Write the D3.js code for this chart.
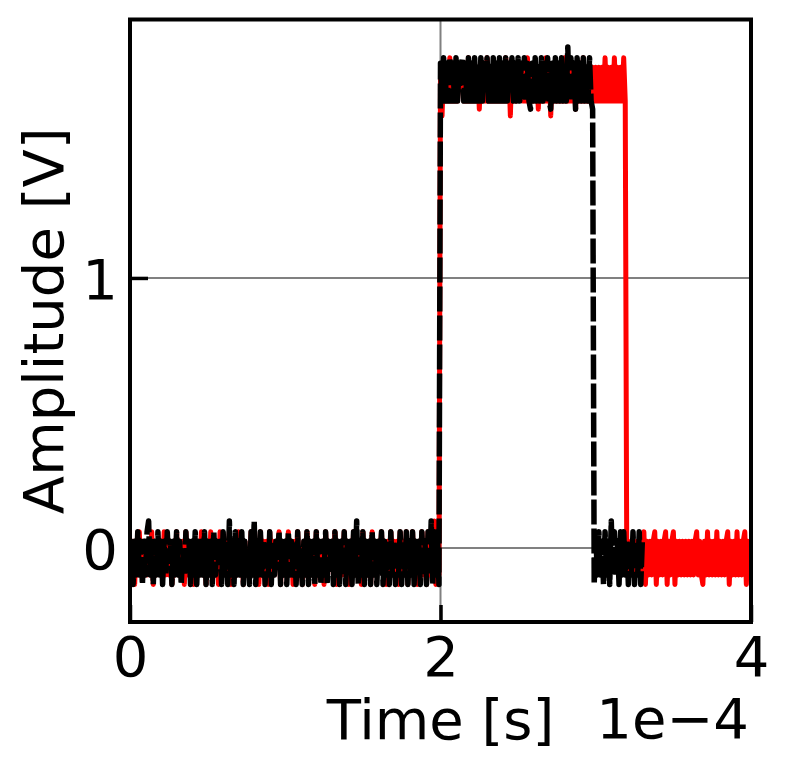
<!DOCTYPE html>
<html>
<head>
<meta charset="utf-8">
<script src="https://cdn.jsdelivr.net/npm/d3@7"></script>
<style>
    html, body { margin: 0; padding: 0; background: #fff; }
    svg text { font-family: "DejaVu Sans", sans-serif; fill: #000; }
</style>
</head>
<body>
<div id="chart"></div>
<script>
// scope samples, one every sampleStep seconds
var sampleStep = 1e-6;

var xTicks = [0, 2e-4, 4e-4];
var yTicks = [0, 1];
var xLabel = 'Time [s]';
var yLabel = 'Amplitude [V]';
var xOffsetText = '1e\u22124';

// red trace (solid)
var redLow1 = [
    0.025,-0.1,0.025,-0.135,0.025,-0.1,0.06,-0.1,0.025,-0.1,
    -0.01,-0.1,0.025,-0.1,0.06,-0.135,0.025,-0.1,0.025,-0.05,
    0.025,-0.1,0.06,-0.1,0.025,-0.1,0.025,-0.135,0.025,-0.1,
    0.06,-0.1,0.025,-0.05,0.025,-0.135,0.06,-0.1,0.025,-0.1,
    0.025,-0.135,0.025,-0.1,-0.01,-0.1,0.06,-0.1,0.025,-0.135,
    0.025,-0.1,0.06,-0.1,0.025,-0.1,0.025,-0.135,0.06,-0.1,
    0.025,-0.05,0.025,-0.1,0.06,-0.135,0.025,-0.1,0.025,-0.1,
    0.06,-0.1,0.025,-0.135,0.025,-0.1,-0.01,-0.1,0.06,-0.1,
    0.025,-0.1,0.025,-0.135,0.06,-0.1,0.025,-0.1,0.025,-0.135,
    0.06,-0.1,0.025,-0.1,0.025,-0.05,0.06,-0.135,0.025,-0.1,
    0.025,-0.1,0.06,-0.1,0.025,-0.135,0.025,-0.1,0.06,-0.1,
    -0.01,-0.135,0.025,-0.1,0.06,-0.1,0.025,-0.1,0.025,-0.135,
    0.06,-0.1,0.025,-0.1,0.025,-0.135,0.06,-0.1,0.025,-0.05,
    0.025,-0.1,0.06,-0.135,0.025,-0.1,0.025,-0.1,0.06,-0.1,
    0.025,-0.135,0.025,-0.1,0.06,-0.1,-0.01,-0.1,0.025,-0.135,
    0.06,-0.1,0.025,-0.1,0.025,-0.135,0.06,-0.1,0.025,-0.1,
    0.025,-0.05,0.06,-0.1,0.025,-0.135,0.025,-0.1,0.06,-0.1,
    0.025,-0.1,0.025,-0.135,0.06,-0.1,0.025,-0.1,0.06,-0.135,
    0.025,-0.1,0.06,-0.1,0.025,-0.135,0.025,-0.1,0.06,-0.1,
    0.025,-0.135,0.06,-0.1,0.025,-0.1,0.1,-0.135,0.06,-0.1
];
var redHigh = [
    1.78,1.6,1.78,1.655,1.78,1.655,1.815,1.655,1.78,1.655,
    1.78,1.655,1.78,1.72,1.78,1.655,1.78,1.655,1.815,1.655,
    1.78,1.655,1.78,1.655,1.78,1.625,1.78,1.655,1.78,1.655,
    1.815,1.655,1.78,1.655,1.72,1.655,1.78,1.655,1.78,1.655,
    1.78,1.655,1.815,1.655,1.78,1.6,1.78,1.655,1.78,1.655,
    1.78,1.72,1.78,1.655,1.78,1.655,1.815,1.655,1.78,1.655,
    1.78,1.655,1.78,1.625,1.78,1.655,1.78,1.655,1.815,1.655,
    1.78,1.6,1.78,1.655,1.78,1.655,1.72,1.655,1.78,1.655,
    1.815,1.655,1.78,1.655,1.78,1.655,1.78,1.625,1.78,1.655,
    1.78,1.655,1.815,1.655,1.78,1.655,1.78,1.655,1.78,1.655,
    1.78,1.655,1.78,1.655,1.78,1.655,1.815,1.655,1.78,1.655,
    1.78,1.655,1.815,1.655,1.78,1.655,1.78,1.655,1.815,1.655
];
var redLow2 = [
    -0.1,0.025,-0.1,0.025,-0.1,0.025,-0.1,0.025,-0.1,0.025,
    -0.1,0.06,-0.135,0.025,-0.1,0.025,-0.1,0.025,0.06,-0.135,
    0.025,-0.1,0.025,-0.1,0.025,0.06,-0.135,0.025,-0.1,0.025,
    0.06,-0.135,0.025,-0.1,0.025,-0.1,0.025,-0.1,0.025,-0.1,
    0.025,-0.1,0.025,-0.1,0.025,0.06,-0.1,0.025,-0.1,-0.135,
    0.025,-0.1,0.06,-0.1,0.025,-0.1,0.025,-0.1,0.06,-0.1,
    0.025,-0.1,0.025,-0.1,0.025,0.06,-0.135,0.025,-0.1,0.025,
    -0.1,0.06,-0.1,0.025,-0.1,0.025,0.06,-0.135,0.025,-0.1,
    0.025
];

// black trace (dashed)
var blackLow1 = [
    -0.1,0.025,-0.135,0.025,-0.1,0.06,-0.1,0.025,-0.135,0.025,
    -0.1,0.06,0.1,-0.1,0.025,-0.135,0.025,-0.1,0.06,-0.1,
    0.025,-0.135,0.025,-0.1,0.06,-0.05,0.025,-0.135,0.025,-0.1,
    0.06,-0.1,0.025,-0.135,-0.01,-0.1,0.06,-0.1,0.025,-0.135,
    0.025,-0.1,0.06,-0.135,0.025,-0.1,0.025,-0.1,0.06,-0.135,
    0.025,-0.1,0.025,-0.135,0.06,-0.1,0.025,-0.05,0.025,-0.135,
    0.06,-0.1,0.025,-0.135,0.1,-0.1,0.025,-0.135,0.06,-0.1,
    0.025,-0.1,0.06,-0.135,0.025,-0.1,-0.01,-0.135,0.06,-0.1,
    0.1,-0.135,0.025,-0.1,0.06,-0.1,0.025,-0.135,0.025,-0.1,
    0.06,-0.135,0.025,-0.1,0.025,-0.05,0.06,-0.135,0.025,-0.1,
    0.025,-0.135,0.06,-0.1,0.025,-0.1,0.025,-0.135,0.06,-0.1,
    -0.01,-0.135,0.025,-0.1,0.06,-0.135,0.025,-0.1,0.025,-0.135,
    0.06,-0.1,0.025,-0.135,0.025,-0.1,0.06,-0.135,0.025,-0.05,
    0.025,-0.135,0.06,-0.1,0.025,-0.135,0.025,-0.1,0.06,-0.135,
    0.025,-0.1,0.025,-0.135,0.06,-0.1,0.1,-0.135,0.025,-0.1,
    0.06,-0.135,0.025,-0.1,0.025,-0.135,0.06,-0.1,0.025,-0.135,
    0.025,-0.05,0.06,-0.135,0.025,-0.1,0.025,-0.135,0.06,-0.1,
    0.025,-0.135,0.025,-0.1,0.06,-0.135,0.025,-0.1,0.06,-0.135,
    0.025,-0.1,0.06,-0.135,0.025,-0.1,0.025,-0.135,0.06,-0.1,
    0.025,-0.135,0.06,-0.1,0.1,-0.135,0.06,-0.1,0.06,-0.135
];
var blackHigh = [
    1.795,1.655,1.815,1.655,1.795,1.655,1.815,1.655,1.795,1.655,
    1.815,1.655,1.795,1.72,1.815,1.655,1.795,1.655,1.815,1.655,
    1.795,1.655,1.815,1.655,1.795,1.655,1.815,1.655,1.795,1.72,
    1.815,1.655,1.795,1.655,1.815,1.655,1.795,1.655,1.815,1.655,
    1.795,1.655,1.815,1.655,1.795,1.72,1.815,1.655,1.795,1.655,
    1.815,1.655,1.795,1.655,1.815,1.655,1.795,1.655,1.625,1.795,
    1.655,1.815,1.655,1.795,1.655,1.815,1.655,1.795,1.655,1.815,
    1.655,1.625,1.795,1.655,1.815,1.655,1.795,1.655,1.815,1.655,
    1.795,1.655,1.855,1.655,1.815,1.655,1.795,1.625,1.815,1.655,
    1.795,1.655,1.815,1.655,1.795,1.655,1.815,1.655,1.625
];
var blackLow2 = [
    -0.135,0.06,-0.1,0.06,-0.1,0.025,-0.135,0.06,-0.1,0.025,
    -0.135,0.1,-0.1,0.06,-0.1,0.025,-0.135,0.06,-0.1,0.06,
    -0.1,0.025,-0.135,0.025,-0.1,0.06,-0.135,0.025,-0.1,0.06,
    -0.135,0.025
];

var ScopeChartController = function(objId) {
    this.objId = objId;
    this.width = 788;
    this.height = 772;
    this.left = 130;
    this.right = 751;
    this.top = 19.5;
    this.bottom = 622;
};

ScopeChartController.prototype = function() {

    function toPoints(values) {
        return values.map(function(v, i) { return [i * sampleStep, v]; });
    }

    function createHtml() {
        var svg = d3.select('#' + this.objId).append('svg')
            .attr('width', this.width)
            .attr('height', this.height);

        var x = d3.scaleLinear().domain([0, 4e-4]).range([this.left, this.right]);
        var y = d3.scaleLinear().domain([-0.274, 1.957]).range([this.bottom, this.top]);

        svg.append('defs').append('clipPath').attr('id', 'plotClip')
            .append('rect')
            .attr('x', this.left).attr('y', this.top)
            .attr('width', this.right - this.left)
            .attr('height', this.bottom - this.top);

        // grid
        var grid = svg.append('g').attr('stroke', '#808080').attr('stroke-width', 2);
        grid.selectAll('line.gx').data(xTicks).enter().append('line')
            .attr('x1', function(d) { return x(d); }).attr('x2', function(d) { return x(d); })
            .attr('y1', this.top).attr('y2', this.bottom);
        grid.selectAll('line.gy').data(yTicks).enter().append('line')
            .attr('x1', this.left).attr('x2', this.right)
            .attr('y1', function(d) { return y(d); }).attr('y2', function(d) { return y(d); });

        var line = d3.line()
            .x(function(d) { return x(d[0]); })
            .y(function(d) { return y(d[1]); });

        var plot = svg.append('g').attr('clip-path', 'url(#plotClip)');

        plot.append('path')
            .datum(toPoints(redLow1.concat(redHigh, redLow2)))
            .attr('d', line)
            .attr('fill', 'none')
            .attr('stroke', '#ff0000')
            .attr('stroke-width', 5)
            .attr('stroke-linejoin', 'round')
            .attr('stroke-linecap', 'round');

        plot.append('path')
            .datum(toPoints(blackLow1.concat(blackHigh, blackLow2)))
            .attr('d', line)
            .attr('fill', 'none')
            .attr('stroke', '#000000')
            .attr('stroke-width', 5.5)
            .attr('stroke-linejoin', 'round')
            .attr('stroke-dasharray', '25,4');

        // axes, ticks pointing inward
        var xAxis = svg.append('g')
            .attr('transform', 'translate(0,' + this.bottom + ')')
            .call(d3.axisBottom(x).tickValues(xTicks).tickSize(-17)
                .tickFormat(function(d) { return Math.round(d / 1e-4); }));
        var yAxis = svg.append('g')
            .attr('transform', 'translate(' + this.left + ',0)')
            .call(d3.axisLeft(y).tickValues(yTicks).tickSize(-18).tickFormat(d3.format('d')));

        [xAxis, yAxis].forEach(function(a) {
            a.select('.domain').remove();
            a.selectAll('.tick line').attr('stroke', '#000').attr('stroke-width', 3.5);
            a.selectAll('.tick text')
                .style('font-family', '"DejaVu Sans", sans-serif')
                .style('font-size', '56px')
                .attr('fill', '#000');
        });
        xAxis.selectAll('.tick text').attr('y', 54).attr('dy', null);
        yAxis.selectAll('.tick text').attr('x', -12).attr('dy', '0.37em');

        // spines
        svg.append('rect')
            .attr('x', this.left).attr('y', this.top)
            .attr('width', this.right - this.left)
            .attr('height', this.bottom - this.top)
            .attr('fill', 'none')
            .attr('stroke', '#000')
            .attr('stroke-width', 4);

        svg.append('text')
            .attr('x', (this.left + this.right) / 2)
            .attr('y', 739)
            .attr('text-anchor', 'middle')
            .style('font-size', '56px')
            .text(xLabel);

        svg.append('text')
            .attr('x', this.right - 2)
            .attr('y', 738)
            .attr('text-anchor', 'end')
            .style('font-size', '56px')
            .text(xOffsetText);

        svg.append('text')
            .attr('transform', 'translate(63,' + ((this.top + this.bottom) / 2) + ') rotate(-90)')
            .attr('text-anchor', 'middle')
            .style('font-size', '56px')
            .text(yLabel);
    }

    return {
        createHtml: createHtml
    };
}();

var chart = new ScopeChartController('chart');
chart.createHtml();
</script>
</body>
</html>
